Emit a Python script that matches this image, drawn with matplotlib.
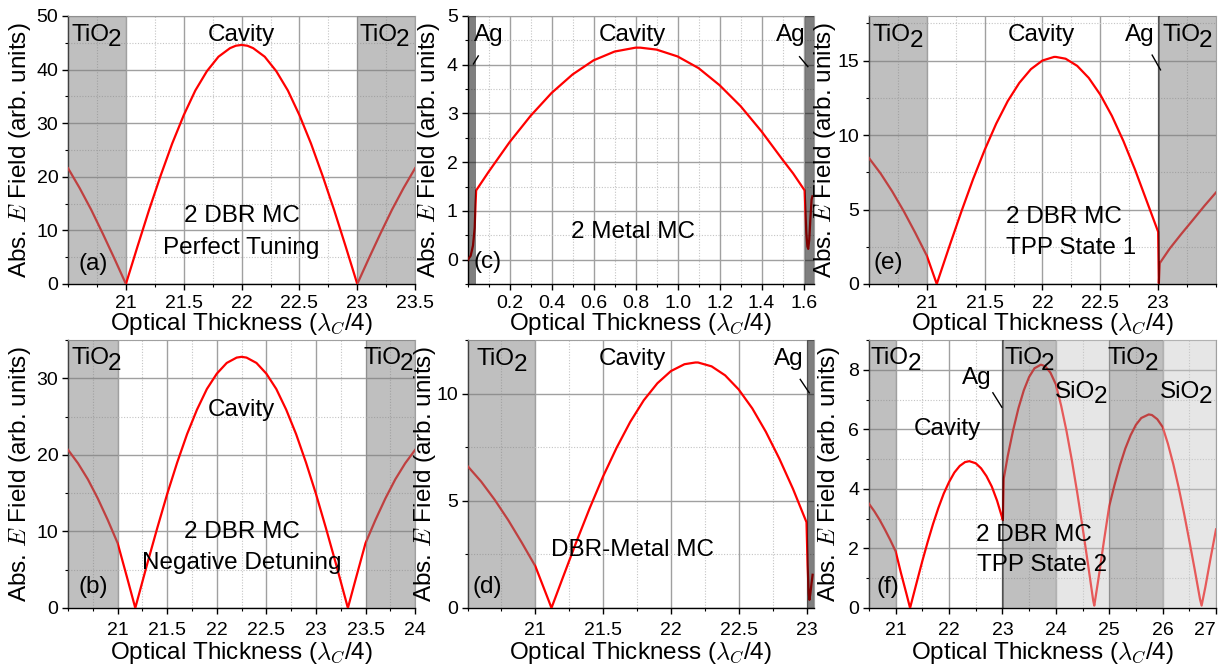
import matplotlib
matplotlib.use('Agg')
import matplotlib.pyplot as plt
from matplotlib.ticker import MultipleLocator, FixedLocator, FormatStrFormatter

plt.rcParams['font.family'] = ['Liberation Sans', 'DejaVu Sans']
plt.rcParams['mathtext.fontset'] = 'cm'

# ---- data (x: optical thickness, y: |E|) ----
# (a) 2 DBR MC, perfect tuning
xa = [20.5, 20.6, 20.7, 20.8, 20.9, 21.0, 21.1, 21.2, 21.3, 21.4, 21.5, 21.6, 21.7, 21.8, 21.9, 21.95, 22.0,
      22.05, 22.1, 22.2, 22.3, 22.4, 22.5, 22.6, 22.7, 22.8, 22.9, 23.0, 23.1, 23.2, 23.3, 23.4, 23.5]
ya = [21.6, 17.9, 13.85, 9.4, 4.77, 0.0, 6.98, 13.8, 20.2, 26.2, 31.5, 36.1, 39.7, 42.4, 44.0, 44.45, 44.6,
      44.45, 44.0, 42.4, 39.7, 36.1, 31.5, 26.2, 20.2, 13.8, 6.98, 0.0, 4.77, 9.4, 13.85, 17.9, 21.6]

# (b) 2 DBR MC, negative detuning
xb = [20.5, 20.6, 20.7, 20.8, 20.9, 21.0, 21.1, 21.178, 21.2, 21.3, 21.4, 21.5, 21.6, 21.7, 21.8, 21.9,
      22.0, 22.1, 22.2, 22.25, 22.3, 22.4, 22.5, 22.6, 22.7, 22.8, 22.9, 23.0, 23.1, 23.2, 23.3, 23.322,
      23.4, 23.5, 23.6, 23.7, 23.8, 23.9, 24.0]
yb = [20.65, 18.9, 16.8, 14.3, 11.5, 8.47, 3.74, 0.0, 1.06, 5.84, 10.46, 14.9, 18.98, 22.7, 25.9, 28.6,
      30.6, 32.0, 32.7, 32.8, 32.7, 32.0, 30.6, 28.6, 25.9, 22.7, 18.98, 14.9, 10.46, 5.84, 1.06, 0.0,
      3.74, 8.47, 11.5, 14.3, 16.8, 18.9, 20.65]

# (c) 2 metal MC
xc = [0.002, 0.015, 0.026, 0.034, 0.038, 0.041, 0.1, 0.2, 0.3, 0.4, 0.5, 0.6, 0.7, 0.8, 0.8225, 0.9,
      1.0, 1.1, 1.2, 1.3, 1.4, 1.5, 1.55, 1.605, 1.609, 1.613, 1.618, 1.622, 1.627, 1.632, 1.638, 1.642]
yc = [0.0, 0.08, 0.29, 0.65, 1.13, 1.42, 1.80, 2.41, 2.95, 3.42, 3.80, 4.09, 4.27, 4.35, 4.35, 4.31,
      4.17, 3.93, 3.58, 3.15, 2.63, 2.05, 1.77, 1.42, 0.96, 0.55, 0.27, 0.22, 0.41, 0.82, 1.23, 1.30]

# (d) DBR-metal MC
xd = [20.5, 20.6, 20.7, 20.8, 20.9, 21.0, 21.1, 21.119, 21.2, 21.3, 21.4, 21.5, 21.6, 21.7, 21.8, 21.9,
      22.0, 22.1, 22.18, 22.2, 22.3, 22.4, 22.5, 22.6, 22.7, 22.8, 22.9, 23.0, 23.008, 23.016, 23.022,
      23.03, 23.038, 23.045]
yd = [6.62, 5.9, 5.05, 4.1, 3.05, 1.95, 0.32, 0.0, 1.37, 3.04, 4.64, 6.14, 7.48, 8.68, 9.69, 10.48,
      11.05, 11.37, 11.45, 11.45, 11.27, 10.85, 10.19, 9.31, 8.22, 6.96, 5.56, 4.0, 2.0, 0.7, 0.38,
      0.75, 1.2, 1.55]

# (e) 2 DBR MC, TPP state 1
xe = [20.5, 20.6, 20.7, 20.8, 20.9, 21.0, 21.086, 21.1, 21.2, 21.3, 21.4, 21.5, 21.6, 21.7, 21.8, 21.9,
      22.0, 22.1, 22.116, 22.2, 22.3, 22.4, 22.5, 22.6, 22.7, 22.8, 22.9, 23.0, 23.006, 23.014, 23.1,
      23.2, 23.3, 23.4, 23.5]
ye = [8.46, 7.43, 6.23, 4.90, 3.44, 1.9, 0.0, 0.33, 2.64, 4.89, 7.04, 9.0, 10.77, 12.29, 13.51, 14.43,
      15.01, 15.25, 15.25, 15.13, 14.65, 13.84, 12.71, 11.29, 9.59, 7.68, 5.59, 3.5, 0.05, 1.4, 2.38,
      3.36, 4.3, 5.25, 6.15]

# (f) 2 DBR MC, TPP state 2
xf = [20.5, 20.6, 20.7, 20.8, 20.9, 21.0, 21.1, 21.2, 21.27, 21.3, 21.4, 21.5, 21.6, 21.7, 21.8, 21.9,
      22.0, 22.1, 22.2, 22.3, 22.38, 22.5, 22.6, 22.7, 22.8, 22.9, 23.0, 23.008, 23.025, 23.1, 23.2,
      23.3, 23.4, 23.5, 23.6, 23.72, 23.8, 23.9, 24.0, 24.1, 24.2, 24.3, 24.4, 24.5, 24.6, 24.7, 24.72,
      24.8, 24.9, 25.0, 25.1, 25.2, 25.3, 25.4, 25.5, 25.6, 25.74, 25.8, 25.9, 26.0, 26.1, 26.2, 26.3,
      26.4, 26.5, 26.6, 26.7, 26.73, 26.8, 26.9, 27.0]
yf = [3.5, 3.25, 2.96, 2.63, 2.28, 1.9, 1.17, 0.49, 0.0, 0.21, 0.90, 1.58, 2.22, 2.82, 3.36, 3.84,
      4.23, 4.55, 4.77, 4.90, 4.93, 4.86, 4.69, 4.43, 4.08, 3.6, 3.0, 2.95, 4.35, 5.11, 5.97,
      6.71, 7.31, 7.76, 8.05, 8.17, 8.12, 7.90, 7.51, 6.79, 5.94, 4.96, 3.88, 2.72, 1.50, 0.25, 0.08,
      1.0, 2.24, 3.42, 4.14, 4.79, 5.35, 5.80, 6.15, 6.38, 6.5, 6.48, 6.34, 6.08, 5.51, 4.83, 4.05,
      3.19, 2.26, 1.30, 0.30, 0.08, 0.70, 1.69, 2.64]

# layers: (start, end, material)
layers_a = [(20.5, 21.0, 'TiO2'), (23.0, 23.5, 'TiO2')]
layers_b = [(20.5, 21.0, 'TiO2'), (23.5, 24.0, 'TiO2')]
layers_c = [(0.0, 0.041, 'Ag'), (1.605, 1.65, 'Ag')]
layers_d = [(20.5, 21.0, 'TiO2'), (23.0, 23.056, 'Ag')]
layers_e = [(20.5, 21.0, 'TiO2'), (23.0, 23.016, 'Ag'), (23.016, 23.5, 'TiO2')]
layers_f = [(20.5, 21.0, 'TiO2'), (23.0, 23.035, 'Ag'), (23.035, 24.0, 'TiO2'), (24.0, 25.0, 'SiO2'),
            (25.0, 26.0, 'TiO2'), (26.0, 27.0, 'SiO2')]

shade = {'TiO2': ('#808080', 0.5), 'SiO2': ('#c8c8c8', 0.45), 'Ag': ('#000000', 0.5)}

FS = 17.5
TFS = 14


def chem(ax, x, y, base, sub):
    t = ax.text(x, y, base, transform=ax.transAxes, ha='left', va='center', fontsize=FS, zorder=6)
    ax.annotate(sub, xy=(1, 0), xycoords=t, xytext=(-1, -4), textcoords='offset points',
                ha='left', va='bottom', fontsize=FS, zorder=6)


def label(ax, x, y, s, ha='center'):
    ax.text(x, y, s, transform=ax.transAxes, ha=ha, va='center', fontsize=FS, zorder=6)


def agline(ax, x0, y0, x1, y1):
    ax.plot([x0, x1], [y0, y1], transform=ax.transAxes, color='black', lw=1.0, zorder=6,
            clip_on=False)


def setup(ax, x, y, layers, xlim, ylim, xmajor, xminor, ymajor, yminor, xfmt='%g', ylab_x=-0.09,
          top=True):
    ax.plot(x, y, color='#ff0000', lw=1.6, zorder=3)
    for a, b, m in layers:
        c, al = shade[m]
        ax.axvspan(a, b, color=c, alpha=al, lw=0, zorder=4)
    ax.set_xlim(*xlim)
    ax.set_ylim(*ylim)
    ax.xaxis.set_major_locator(FixedLocator(xmajor))
    ax.xaxis.set_minor_locator(MultipleLocator(xminor))
    ax.xaxis.set_major_formatter(FormatStrFormatter(xfmt))
    ax.yaxis.set_major_locator(MultipleLocator(ymajor))
    ax.yaxis.set_minor_locator(MultipleLocator(yminor))
    ax.yaxis.set_major_formatter(FormatStrFormatter('%g'))
    ax.grid(which='major', color='#a0a0a0', lw=1.0, zorder=1)
    ax.grid(which='minor', color='#c4c4c4', lw=0.8, ls=(0, (1, 1.5)), zorder=1)
    ax.set_axisbelow(True)
    ax.tick_params(which='major', direction='out', length=4, width=1, labelsize=TFS, pad=3)
    ax.tick_params(axis='x', which='major', pad=4 if top else 6)
    ax.tick_params(which='minor', direction='out', length=2.5, width=0.8)
    for s in ['top', 'right']:
        ax.spines[s].set_color('#a0a0a0')
    for s in ['left', 'bottom']:
        ax.spines[s].set_linewidth(1.0)
    ax.set_xlabel(r'Optical Thickness ($\lambda_C$/4)', fontsize=FS)
    ax.set_ylabel(r'Abs. $E$ Field (arb. units)', fontsize=FS)
    ax.xaxis.set_label_coords(0.5, -0.1 if top else -0.118)
    ax.yaxis.set_label_coords(ylab_x, 0.5)


fig = plt.figure(figsize=(12.22, 6.69), dpi=100)
W, H = 0.284, 0.4006
axa = fig.add_axes([0.0557, 0.5755, W, H])
axc = fig.add_axes([0.3826, 0.5755, 0.2836, H])
axe = fig.add_axes([0.7111, 0.5755, W, H])
axb = fig.add_axes([0.0557, 0.0912, W, H])
axd = fig.add_axes([0.3826, 0.0912, 0.2836, H])
axf = fig.add_axes([0.7111, 0.0912, W, H])

# (a)
setup(axa, xa, ya, layers_a, (20.5, 23.5), (0, 50), [21, 21.5, 22, 22.5, 23, 23.5], 0.25, 10, 5,
      ylab_x=-0.1)
chem(axa, 0.01, 0.93, 'TiO', '2')
chem(axa, 0.84, 0.93, 'TiO', '2')
label(axa, 0.5, 0.93, 'Cavity')
label(axa, 0.5, 0.255, '2 DBR MC')
label(axa, 0.5, 0.136, 'Perfect Tuning')
label(axa, 0.03, 0.075, '(a)', ha='left')

# (b)
setup(axb, xb, yb, layers_b, (20.5, 24.0), (0, 35), [21, 21.5, 22, 22.5, 23, 23.5, 24], 0.25, 10, 5,
      ylab_x=-0.1, top=False)
chem(axb, 0.01, 0.932, 'TiO', '2')
chem(axb, 0.85, 0.932, 'TiO', '2')
label(axb, 0.5, 0.739, 'Cavity')
label(axb, 0.5, 0.285, '2 DBR MC')
label(axb, 0.5, 0.167, 'Negative Detuning')
label(axb, 0.03, 0.08, '(b)', ha='left')

# (c)
setup(axc, xc, yc, layers_c, (0.0, 1.65), (-0.5, 5), [0.2, 0.4, 0.6, 0.8, 1.0, 1.2, 1.4, 1.6], 0.1, 1, 0.5,
      xfmt='%.1f', ylab_x=-0.075)
label(axc, 0.062, 0.929, 'Ag')
label(axc, 0.933, 0.929, 'Ag')
agline(axc, 0.031, 0.851, 0.017, 0.821)
agline(axc, 0.958, 0.848, 0.982, 0.811)
label(axc, 0.477, 0.929, 'Cavity')
label(axc, 0.478, 0.193, '2 Metal MC')
label(axc, 0.017, 0.083, '(c)', ha='left')

# (d)
setup(axd, xd, yd, layers_d, (20.5, 23.056), (0, 12.5), [21, 21.5, 22, 22.5, 23], 0.25, 5, 2.5,
      ylab_x=-0.085, top=False)
chem(axd, 0.027, 0.928, 'TiO', '2')
label(axd, 0.477, 0.928, 'Cavity')
label(axd, 0.928, 0.928, 'Ag')
agline(axd, 0.960, 0.853, 0.986, 0.803)
label(axd, 0.477, 0.216, 'DBR-Metal MC')
label(axd, 0.015, 0.08, '(d)', ha='left')

# (e)
setup(axe, xe, ye, layers_e, (20.5, 23.5), (0, 18), [21, 21.5, 22, 22.5, 23], 0.25, 5, 2.5,
      ylab_x=-0.088)
chem(axe, 0.011, 0.929, 'TiO', '2')
label(axe, 0.498, 0.929, 'Cavity')
label(axe, 0.779, 0.929, 'Ag')
agline(axe, 0.816, 0.854, 0.840, 0.799)
chem(axe, 0.846, 0.929, 'TiO', '2')
label(axe, 0.395, 0.249, '2 DBR MC', ha='left')
label(axe, 0.395, 0.133, 'TPP State 1', ha='left')
label(axe, 0.012, 0.077, '(e)', ha='left')

# (f)
setup(axf, xf, yf, layers_f, (20.5, 27.0), (0, 9), [21, 22, 23, 24, 25, 26, 27], 0.5, 2, 1,
      ylab_x=-0.078, top=False)
axf.xaxis.get_major_ticks()[-1].label1.set_horizontalalignment('right')
chem(axf, 0.005, 0.932, 'TiO', '2')
label(axf, 0.31, 0.857, 'Ag')
agline(axf, 0.357, 0.803, 0.383, 0.749)
label(axf, 0.227, 0.668, 'Cavity')
chem(axf, 0.39, 0.932, 'TiO', '2')
chem(axf, 0.536, 0.807, 'SiO', '2')
chem(axf, 0.688, 0.932, 'TiO', '2')
chem(axf, 0.837, 0.807, 'SiO', '2')
label(axf, 0.307, 0.272, '2 DBR MC', ha='left')
label(axf, 0.31, 0.16, 'TPP State 2', ha='left')
label(axf, 0.022, 0.08, '(f)', ha='left')

fig.savefig('out.png', dpi=100)
